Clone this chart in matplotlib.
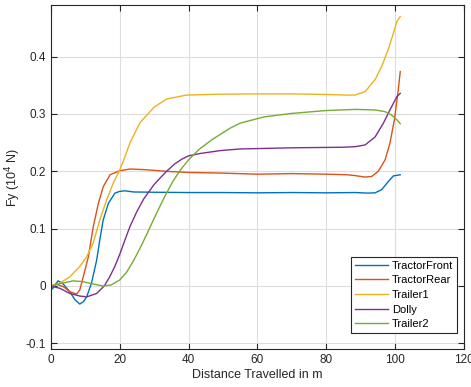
import matplotlib
matplotlib.use('Agg')
import matplotlib.pyplot as plt

plt.rcParams['font.family'] = ['Liberation Sans', 'DejaVu Sans']

# Lateral force data (x in m, Fy in 10^4 N)
front_x = [0, 0.5, 1.2, 2.1, 3.5, 5.5, 7, 8.4, 9.5, 10.4, 11.8, 13.3, 14.2, 15.2, 16.7, 18.6, 20, 21.5, 24, 30,
           40, 50, 60, 70, 80, 88.4, 92, 94.2, 96.1, 98, 99.5, 100.5, 101.5]
front_y = [0, -0.005, 0.002, 0.009, 0.004, -0.01, -0.024, -0.0315, -0.027, -0.019, 0.005, 0.045, 0.08, 0.115, 0.144, 0.162, 0.165, 0.166, 0.164, 0.1635,
           0.163, 0.163, 0.1625, 0.163, 0.1625, 0.163, 0.162, 0.1625, 0.168, 0.182, 0.192, 0.193, 0.194]

rear_x = [0, 1.6, 3.6, 5.5, 7.5, 8.4, 9.4, 10.9, 12.3, 13.8, 15.2, 17.2, 20, 23, 27, 33.6, 40, 49, 60, 70,
          80, 86, 88.4, 91.3, 93.2, 95.1, 97.1, 98.5, 99.8, 100.8, 101.5]
rear_y = [0, 0.003, -0.001, -0.01, -0.014, -0.007, 0.016, 0.051, 0.103, 0.144, 0.173, 0.194, 0.201, 0.204, 0.203, 0.2, 0.198, 0.197, 0.195, 0.196,
          0.195, 0.194, 0.1925, 0.19, 0.191, 0.2, 0.22, 0.249, 0.29, 0.336, 0.374]

trailer1_x = [0, 2.6, 5.5, 8.4, 10.4, 12.3, 14.2, 16.2, 18.1, 20, 21.5, 23, 25.9, 28.2, 30, 33.6, 39.4, 49, 60, 70,
              80, 86, 88.4, 91.3, 94.2, 96.1, 98, 99.5, 100.5, 101.5]
trailer1_y = [0, 0.005, 0.016, 0.034, 0.051, 0.075, 0.115, 0.15, 0.179, 0.202, 0.225, 0.25, 0.285, 0.3, 0.312, 0.326, 0.333, 0.3345, 0.335, 0.335,
              0.334, 0.333, 0.333, 0.339, 0.36, 0.383, 0.412, 0.441, 0.461, 0.47]

dolly_x = [0, 2.6, 5.5, 8.4, 10.4, 13.3, 15.5, 17, 18.5, 20, 21.5, 23, 25, 27, 28.3, 30, 32, 33.6, 36, 38,
           40, 43.3, 49, 55, 70, 85, 88.4, 91.3, 94.2, 96.6, 98.5, 100.5, 101.5]
dolly_y = [0, -0.004, -0.013, -0.0175, -0.019, -0.013, 0.0, 0.015, 0.033, 0.055, 0.08, 0.104, 0.13, 0.152, 0.163, 0.177, 0.19, 0.2, 0.213, 0.221,
           0.227, 0.231, 0.236, 0.239, 0.241, 0.242, 0.243, 0.246, 0.26, 0.284, 0.307, 0.33, 0.336]

trailer2_x = [0, 2.6, 6.5, 9.4, 12.3, 15.2, 17.6, 20, 22, 24, 26, 28, 30, 32, 33.6, 35.5, 37.7, 40, 43, 47,
              52, 55, 62, 70, 80, 88.4, 94.2, 97.1, 99, 100.5, 101.5]
trailer2_y = [0, 0.004, 0.009, 0.0075, 0.0035, 0.0, 0.002, 0.0105, 0.024, 0.044, 0.067, 0.092, 0.118, 0.143, 0.162, 0.183, 0.203, 0.22, 0.238, 0.256,
              0.275, 0.284, 0.295, 0.301, 0.306, 0.308, 0.307, 0.304, 0.298, 0.29, 0.283]

labels = ['TractorFront', 'TractorRear', 'Trailer1', 'Dolly', 'Trailer2']
colors = ['#0072BD', '#D95319', '#EDB120', '#7E2F8E', '#77AC30']

fig = plt.figure(figsize=(4.71, 3.87), dpi=100)
ax = fig.add_axes([0.108, 0.098, 0.877, 0.889])

series = [(front_x, front_y), (rear_x, rear_y), (trailer1_x, trailer1_y),
          (dolly_x, dolly_y), (trailer2_x, trailer2_y)]
for (x, y), lab, c in zip(series, labels, colors):
    ax.plot(x, y, color=c, lw=1.0, label=lab)

ax.set_xlim(0, 120)
ax.set_ylim(-0.11, 0.49)
ax.set_xticks([0, 20, 40, 60, 80, 100, 120])
ax.set_yticks([-0.1, 0, 0.1, 0.2, 0.3, 0.4])
ax.set_yticklabels(['-0.1', '0', '0.1', '0.2', '0.3', '0.4'])
ax.grid(True, color='#dddddd', lw=0.8)
ax.set_axisbelow(True)
ax.tick_params(direction='in', top=True, right=True, labelsize=8.5,
               colors='#262626', length=4)
for s in ax.spines.values():
    s.set_color('#262626')
    s.set_linewidth(0.8)

ax.set_xlabel('Distance Travelled in m', fontsize=9, color='#262626', labelpad=2)
ax.set_ylabel('Fy (10$^4$ N)', fontsize=9, color='#262626', labelpad=2)

leg = ax.legend(loc='lower right', bbox_to_anchor=(0.983, 0.0465), borderaxespad=0,
                fontsize=8, fancybox=False, framealpha=1, edgecolor='#262626',
                borderpad=0.35, labelspacing=0.42, handlelength=3.0, handletextpad=0.3)
leg.get_frame().set_linewidth(0.8)

fig.savefig('out.png', dpi=100)
